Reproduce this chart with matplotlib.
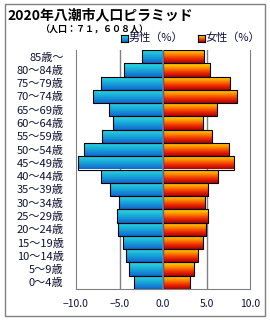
import numpy as np
import matplotlib.pyplot as plt
from matplotlib.colors import LinearSegmentedColormap
from matplotlib.patches import Rectangle

plt.rcParams['font.family'] = ['Noto Sans CJK JP', 'DejaVu Sans']

# bottom (0-4) to top (85+)
ages = ['0～4歳', '5～9歳', '10～14歳', '15～19歳', '20～24歳', '25～29歳',
        '30～34歳', '35～39歳', '40～44歳', '45～49歳', '50～54歳', '55～59歳',
        '60～64歳', '65～69歳', '70～74歳', '75～79歳', '80～84歳', '85歳～']
male = [3.36, 3.86, 4.20, 4.62, 5.13, 5.24, 5.09, 6.05, 7.08, 9.73, 9.04,
        6.97, 5.70, 6.16, 8.00, 7.16, 4.44, 2.43]
female = [3.16, 3.51, 3.97, 4.58, 4.89, 5.12, 4.78, 5.12, 6.27, 8.11, 7.54,
          5.58, 4.55, 6.16, 8.46, 7.65, 5.35, 4.66]
ticks = [-10, -5, 0, 5, 10]

male_cm = LinearSegmentedColormap.from_list('m', ['#30dce0', '#18a8d8', '#1068d0'])
female_cm = LinearSegmentedColormap.from_list('f', ['#ffe400', '#ff9000', '#f03000', '#b00000'])
grad = np.linspace(0, 1, 64).reshape(-1, 1)

fig = plt.figure(figsize=(2.7, 3.2), dpi=100)
ax = fig.add_axes([76/270, 1-289/320, 174/270, 239/320])

y = np.arange(len(ages))


def grad_bars(vals, cm):
    bars = ax.barh(y, vals, height=1.0, color='none', edgecolor='black', lw=0.8, zorder=3)
    for b in bars:
        x0, y0, w, h = b.get_x(), b.get_y(), b.get_width(), b.get_height()
        im = ax.imshow(grad, cmap=cm, extent=[x0, x0 + w, y0, y0 + h],
                       aspect='auto', zorder=2, interpolation='bilinear')
        im.set_clip_path(b)


grad_bars(-np.array(male), male_cm)
grad_bars(np.array(female), female_cm)

for g in [-5, 5]:
    ax.axvline(g, color='#808080', lw=1, zorder=0)
ax.axvline(0, color='#5a8ab8', lw=1.2, zorder=4)

ax.set_xlim(-10, 10)
ax.set_ylim(-0.5, len(ages) - 0.5)
ax.set_yticks(y)
ax.set_yticklabels(ages, fontsize=8, color='#101030')
ax.set_xticks(ticks)
ax.set_xticklabels(['−%.1f' % abs(t) if t < 0 else '%.1f' % t for t in ticks],
                   fontsize=7.5, color='#101040')
ax.tick_params(length=0)
ax.tick_params(axis='y', pad=9)
ax.tick_params(axis='x', pad=7)
ax.spines['top'].set_visible(False)
for s in ['left', 'right', 'bottom']:
    ax.spines[s].set_color('#808080')

# outer frame
fig.add_artist(Rectangle((5/270, 4/320), 260/270, 312/320, transform=fig.transFigure,
                         fill=False, edgecolor='#808080', lw=1))

fig.text(7/270, 1-15/320, '2020年八潮市人口ピラミッド', fontsize=10, weight='bold', va='center')
fig.text(40/270, 1-29.5/320, '（人口：７１，６０８人）', fontsize=6.5, weight='bold', va='center')

# legend
for x0, cm, lab in [(121, male_cm, '男性（%）'), (197.5, female_cm, '女性（%）')]:
    lax = fig.add_axes([x0/270, 1-42/320, 7/270, 7/320])
    lax.imshow(grad, cmap=cm, aspect='auto', extent=[0, 1, 0, 1])
    lax.set_xticks([])
    lax.set_yticks([])
    for s in lax.spines.values():
        s.set_color('black')
        s.set_linewidth(0.8)
    fig.text((x0 + 8)/270, 1-38/320, lab, fontsize=8, va='center', color='#101040')

fig.savefig('out.png', dpi=100)
